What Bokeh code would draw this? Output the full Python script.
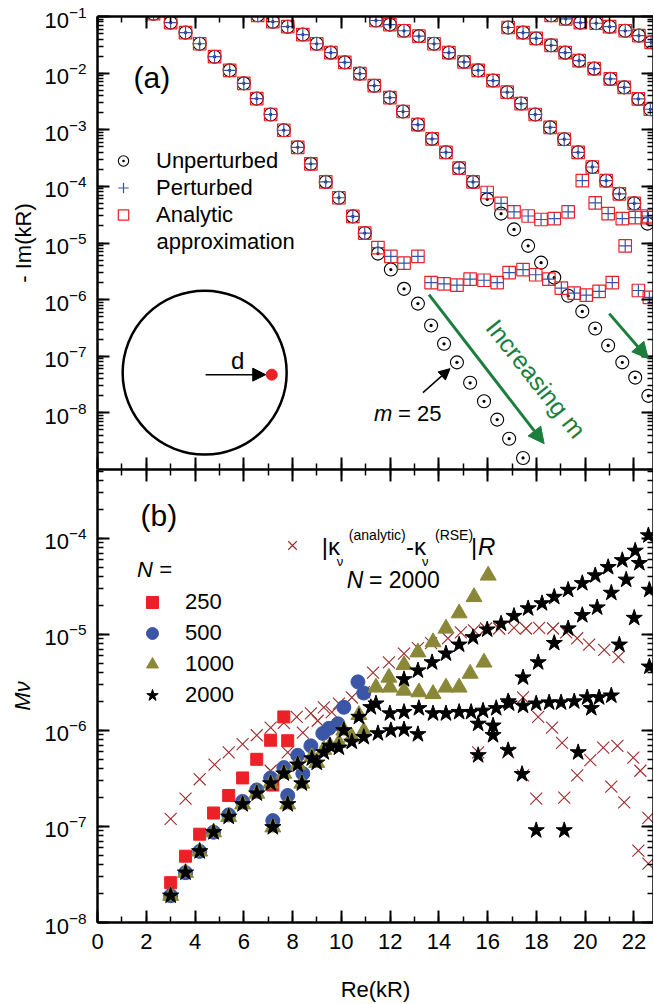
from bokeh.plotting import figure
from bokeh.models import (FixedTicker, LogAxis, LinearAxis, Label, Arrow, NormalHead,
                          Legend, LegendItem, LogTickFormatter, CustomJSTickFormatter)
from bokeh.layouts import column
from bokeh.embed import file_html
from bokeh.resources import INLINE

FONT = "Liberation Sans"

# ---------------- panel (a): -Im(kR) vs Re(kR) ----------------
fam1_x = [2.30, 3.00, 3.61, 4.19, 4.80, 5.42, 6.00, 6.53, 7.10, 7.64, 8.21, 8.75, 9.36, 9.90,
          10.47, 10.96, 11.50, 12.03, 12.57, 13.14, 13.68, 14.21, 14.74, 15.28, 15.85, 16.39,
          16.88, 17.45]
fam1_unpert = [1.12e-1, 7.8e-2, 5.2e-2, 3.3e-2, 1.95e-2, 1.12e-2, 6.6e-3, 3.55e-3, 1.86e-3,
               9.8e-4, 4.9e-4, 2.5e-4, 1.2e-4, 6.3e-5, 2.95e-5, 1.5e-5, 6.5e-6, 3.4e-6, 1.55e-6,
               8.5e-7, 3.5e-7, 1.66e-7, 7.8e-8, 3.4e-8, 1.6e-8, 7.6e-9, 3.5e-9, 1.6e-9]
fam1_pert_x = [2.30, 3.00, 3.61, 4.19, 4.80, 5.42, 6.00, 6.53, 7.10, 7.64, 8.21, 8.75, 9.36,
               9.90, 10.47, 10.96, 11.50, 12.03, 12.57, 13.14, 13.68, 14.21, 14.74, 15.28,
               15.85, 16.39, 16.88, 17.45, 17.97, 18.51, 19.02, 19.55, 20.04, 20.57, 21.11,
               21.64, 22.18, 22.63]
fam1_pert = [1.12e-1, 7.8e-2, 5.2e-2, 3.3e-2, 1.95e-2, 1.12e-2, 6.6e-3, 3.55e-3, 1.86e-3,
             9.8e-4, 4.9e-4, 2.5e-4, 1.2e-4, 6.3e-5, 2.95e-5, 1.5e-5, 8.3e-6, 5.8e-6, 4.4e-6,
             5.8e-6, 2.0e-6, 1.9e-6, 1.8e-6, 2.3e-6, 2.2e-6, 2.0e-6, 3.0e-6, 3.4e-6, 2.75e-6,
             2.3e-6, 1.6e-6, 1.3e-6, 1.2e-6, 1.4e-6, 2.0e-6, 8.9e-6, 1.45e-6, 1.1e-6]

fam2_x = [6.57, 7.19, 7.80, 8.42, 8.99, 9.57, 10.14, 10.76, 11.35, 11.99, 12.53, 13.14, 13.72,
          14.29, 14.83, 15.40, 15.98, 16.55, 17.08, 17.66, 18.19, 18.73, 19.30, 19.88, 20.41,
          20.94, 21.52, 22.05, 22.59]
fam2_unpert = [1.05e-1, 8.1e-2, 6.6e-2, 4.8e-2, 3.3e-2, 2.3e-2, 1.55e-2, 9.8e-3, 6.0e-3,
               3.7e-3, 2.1e-3, 1.23e-3, 6.9e-4, 4.0e-4, 2.1e-4, 1.2e-4, 5.9e-5, 3.3e-5,
               1.74e-5, 8.9e-6, 4.5e-6, 2.45e-6, 1.17e-6, 6.2e-7, 3.1e-7, 1.55e-7, 7.8e-8,
               4.2e-8, 2.0e-8]
fam2_pert = [1.05e-1, 8.1e-2, 6.6e-2, 4.8e-2, 3.3e-2, 2.3e-2, 1.55e-2, 9.8e-3, 6.0e-3,
             3.7e-3, 2.1e-3, 1.23e-3, 6.9e-4, 4.0e-4, 2.1e-4, 1.2e-4, 7.8e-5, 5.0e-5, 3.55e-5,
             3.0e-5, 2.6e-5, 2.7e-5, 3.55e-5, 1.26e-4, 5.1e-5, 3.3e-5, 2.7e-5, 2.8e-5, 2.8e-5]

fam3_x = [11.42, 11.99, 12.57, 13.18, 13.80, 14.41, 15.03, 15.61, 16.22, 16.80, 17.37, 17.95,
          18.56, 19.14, 19.71, 20.29, 20.86, 21.40, 22.01, 22.55]
fam3_unpert = [8.5e-2, 7.2e-2, 5.6e-2, 4.5e-2, 3.3e-2, 2.3e-2, 1.58e-2, 1.12e-2, 7.4e-3,
               4.6e-3, 2.9e-3, 1.86e-3, 1.1e-3, 6.8e-4, 4.0e-4, 2.2e-4, 1.26e-4, 7.4e-5,
               5.0e-5, 2.2e-5]
fam3_pert = [8.5e-2, 7.2e-2, 5.6e-2, 4.5e-2, 3.3e-2, 2.3e-2, 1.58e-2, 1.12e-2, 7.4e-3,
             4.6e-3, 2.9e-3, 1.86e-3, 1.1e-3, 6.8e-4, 4.0e-4, 2.2e-4, 1.26e-4, 7.4e-5,
             5.0e-5, 3.0e-5]

fam4_x = [16.84, 17.45, 17.99, 18.60, 19.18, 19.75, 20.37, 21.03, 21.60, 22.18, 22.67]
fam4_val = [6.4e-2, 5.2e-2, 4.1e-2, 3.1e-2, 2.3e-2, 1.66e-2, 1.2e-2, 7.9e-3, 5.6e-3, 3.5e-3,
            2.3e-3]
fam5_x = [18.60, 19.20, 19.80, 20.45, 21.00, 21.64, 22.20, 22.70]
fam5_val = [1.05e-1, 9.1e-2, 7.8e-2, 7.6e-2, 6.6e-2, 5.6e-2, 4.6e-2, 3.5e-2]

# ---------------- panel (b): M_nu vs Re(kR) ----------------
n250_x = [3.00, 3.61, 4.19, 4.76, 5.38, 5.95, 6.53, 7.10, 7.64, 7.19, 7.80]
n250_y = [2.6e-8, 4.9e-8, 8.3e-8, 1.38e-7, 2.1e-7, 3.2e-7, 5.0e-7, 7.9e-7, 1.38e-6, 2.7e-7,
          7.8e-7]

n500_x = [3.00, 3.61, 4.19, 4.76, 5.38, 5.95, 6.53, 7.10, 7.64, 8.21, 8.75, 9.24, 9.49, 9.86,
          10.10, 10.68, 10.92, 7.19, 7.80, 8.42]
n500_y = [1.9e-8, 3.3e-8, 5.5e-8, 8.7e-8, 1.32e-7, 1.82e-7, 2.4e-7, 3.2e-7, 4.1e-7, 5.5e-7,
          6.9e-7, 9.3e-7, 1.05e-6, 1.17e-6, 1.74e-6, 3.2e-6, 2.45e-6, 1.15e-7, 2.1e-7, 3.55e-7]

n1000_x = [3.00, 3.61, 4.19, 4.76, 5.38, 5.95, 6.53, 7.10, 7.64, 8.21, 8.79, 9.28, 9.90, 10.43,
           10.92, 7.19, 7.80, 8.38, 8.99, 9.53, 10.10, 10.72, 11.42, 11.99, 12.57, 13.18,
           13.76, 14.29, 14.83, 15.28, 15.85, 11.95, 12.57, 13.14, 13.76, 14.29, 14.83, 15.44,
           16.02]
n1000_y = [1.9e-8, 3.3e-8, 5.5e-8, 8.7e-8, 1.26e-7, 1.7e-7, 2.2e-7, 2.8e-7, 3.55e-7, 4.4e-7,
           5.3e-7, 6.3e-7, 7.4e-7, 8.5e-7, 9.8e-7, 9.8e-8, 1.7e-7, 2.8e-7, 4.6e-7, 6.9e-7,
           1.0e-6, 1.45e-6, 2.8e-6, 2.8e-6, 2.6e-6, 2.5e-6, 2.4e-6, 2.8e-6, 2.8e-6, 3.9e-6,
           5.1e-6, 3.55e-6, 4.8e-6, 6.5e-6, 8.3e-6, 1.15e-5, 1.66e-5, 2.45e-5, 4.1e-5]

n2000_x = [3.00, 3.61, 4.19, 4.76, 5.38, 5.95, 6.53, 7.10, 7.64, 8.21, 8.79, 9.28, 9.90, 10.43,
           10.92, 11.50, 12.03, 12.57, 13.14,
           7.19, 7.80, 8.38, 8.99, 9.53, 10.10, 10.72, 11.21,
           11.42, 11.99, 12.57, 13.18, 13.76, 14.29, 14.83, 15.32, 15.81, 16.35, 16.88, 17.45,
           17.99, 18.52, 19.01, 19.55, 20.08, 20.57, 21.07, 20.25,
           12.57, 13.14, 13.72, 14.29, 14.83, 15.40, 15.98, 16.55, 17.08, 17.66, 18.23, 18.73,
           19.30, 19.88, 20.41, 20.94, 21.52, 22.05, 22.59,
           17.45, 18.07, 18.73, 19.30, 19.88, 20.49, 21.07, 21.68, 22.22,
           22.63, 22.01, 21.40, 22.63,
           15.61, 16.84, 17.41, 17.99, 19.14, 19.71, 16.22, 16.22, 16.84, 15.61]
n2000_y = [1.9e-8, 3.3e-8, 5.5e-8, 8.7e-8, 1.26e-7, 1.7e-7, 2.2e-7, 2.8e-7, 3.55e-7, 4.4e-7,
           5.1e-7, 5.9e-7, 6.6e-7, 7.6e-7, 8.5e-7, 9.3e-7, 1.0e-6, 1.02e-6, 9.1e-7,
           9.8e-8, 1.7e-7, 2.8e-7, 4.6e-7, 6.9e-7, 1.0e-6, 1.38e-6, 1.74e-6,
           1.9e-6, 1.5e-6, 1.55e-6, 1.7e-6, 1.5e-6, 1.5e-6, 1.55e-6, 1.55e-6, 1.6e-6, 1.7e-6,
           1.9e-6, 1.8e-6, 1.9e-6, 1.95e-6, 1.95e-6, 2.0e-6, 2.2e-6, 2.2e-6, 2.3e-6, 1.7e-6,
           3.4e-6, 4.2e-6, 5.1e-6, 6.3e-6, 7.8e-6, 9.3e-6, 1.12e-5, 1.29e-5, 1.55e-5, 1.86e-5,
           2.1e-5, 2.45e-5, 2.9e-5, 3.4e-5, 4.1e-5, 5.0e-5, 5.9e-5, 7.4e-5, 1.07e-4,
           3.55e-6, 5.1e-6, 8.1e-6, 1.15e-5, 1.58e-5, 1.9e-5, 2.7e-5, 3.7e-5, 5.5e-5,
           2.9e-5, 1.48e-5, 7.8e-6, 4.6e-6,
           5.5e-7, 6.2e-7, 3.5e-7, 9.1e-8, 9.1e-8, 5.9e-7, 8.9e-7, 1.12e-6, 2.0e-6, 1.17e-6]

dk_x = [3.00, 3.61, 4.19, 4.80, 5.38, 5.95, 6.53, 7.10, 7.64, 8.17, 8.75, 9.28, 9.90, 10.43,
        10.92, 7.10, 7.80, 8.42, 9.03, 9.61,
        11.30, 11.95, 12.57, 13.14, 13.68, 14.37, 14.90, 15.44, 15.93, 16.47, 17.08, 17.57,
        18.11, 18.68, 19.22, 19.67, 20.16, 20.78, 21.36,
        17.45, 18.07, 18.64, 19.05, 19.67, 20.21, 20.74, 21.32, 21.97, 22.26, 21.07, 21.60,
        22.59, 22.18, 22.59, 17.99, 19.14, 15.61, 16.84, 17.45]
dk_y = [1.2e-7, 1.95e-7, 3.1e-7, 4.4e-7, 5.9e-7, 7.2e-7, 8.9e-7, 1.07e-6, 1.2e-6, 1.38e-6,
        1.5e-6, 1.74e-6, 1.9e-6, 2.2e-6, 2.5e-6, 3.8e-7, 5.9e-7, 9.5e-7, 1.26e-6, 1.55e-6,
        4.0e-6, 5.1e-6, 6.3e-6, 7.2e-6, 8.1e-6, 9.1e-6, 1.05e-5, 1.1e-5, 1.15e-5, 1.15e-5,
        1.17e-5, 1.15e-5, 1.17e-5, 1.15e-5, 1.05e-5, 9.1e-6, 7.8e-6, 6.9e-6, 5.8e-6,
        2.2e-6, 1.38e-6, 1.07e-6, 7.4e-7, 3.4e-7, 4.9e-7, 6.6e-7, 6.9e-7, 5.2e-7, 3.8e-7,
        2.6e-7, 1.78e-7, 1.23e-7, 5.6e-8, 4.1e-8, 1.95e-7, 2.0e-7, 5.9e-7, 5.9e-7, 3.4e-7]

x_ticks = [0, 2, 4, 6, 8, 10, 12, 14, 16, 18, 20, 22]
x_minor = list(range(0, 23))
top_major = [1e-8, 1e-7, 1e-6, 1e-5, 1e-4, 1e-3, 1e-2, 1e-1]
bot_major = [1e-8, 1e-7, 1e-6, 1e-5, 1e-4]

# ---------- helpers for placing annotations from pixel positions ----------
def TA(px, py):
    return (px - 97) / 24.35, 10 ** (-1 - (py - 16) / 56.6)

def TB(px, py):
    return (px - 97) / 24.35, 10 ** (-8 + (922 - py) / 96.0)


def style_axis(ax, labels=True):
    ax.axis_line_width = 2.5
    ax.axis_line_color = "black"
    ax.major_tick_in = 12
    ax.major_tick_out = 0
    ax.minor_tick_in = 6
    ax.minor_tick_out = 0
    ax.major_tick_line_width = 2
    ax.minor_tick_line_width = 1.5
    ax.major_label_text_font = FONT
    ax.major_label_text_font_size = "22px"
    ax.major_label_text_color = "black"
    ax.axis_label_text_font = FONT
    ax.axis_label_text_font_size = "22px"
    ax.axis_label_text_font_style = "normal"
    ax.axis_label_text_color = "black"
    ax.major_label_standoff = 11
    if not labels:
        ax.formatter = CustomJSTickFormatter(code="return ''")
        ax.major_label_text_font_size = "1px"
        ax.major_label_standoff = 0


def minor_log(lo, hi):
    return [k * 10.0 ** e for e in range(lo, hi) for k in range(1, 10)]


def make_fig(ymin, ymax, major, minor, bottom_labels, fh, top_border):
    p = figure(x_range=(0, 22.8), y_range=(ymin, ymax), y_axis_type="log",
               x_axis_location=None, y_axis_location=None,
               frame_width=556, frame_height=fh, output_backend="svg",
               toolbar_location=None, min_border_left=97, min_border_right=0,
               min_border_top=top_border, min_border_bottom=0,
               background_fill_color="white", border_fill_color="white")
    p.outline_line_color = None
    p.xgrid.visible = False
    p.ygrid.visible = False
    xt = FixedTicker(ticks=x_ticks, minor_ticks=x_minor)
    yt = FixedTicker(ticks=major, minor_ticks=minor)
    left = LogAxis(ticker=yt, formatter=LogTickFormatter())
    style_axis(left, True)
    p.add_layout(left, "left")
    below = LinearAxis(ticker=xt)
    style_axis(below, bottom_labels)
    p.add_layout(below, "below")
    top = LinearAxis(ticker=xt)
    style_axis(top, False)
    p.add_layout(top, "above")
    right = LogAxis(ticker=yt)
    style_axis(right, False)
    p.add_layout(right, "right")
    return p, left, below

# ======================= top panel ===========================
p1, p1_left, p1_below = make_fig(1e-9, 1e-1, top_major, minor_log(-9, -1), False, 453, 16)
p1_left.axis_label = "- Im(kR)"
p1_left.axis_label_standoff = 5

UNP = dict(marker="circle_dot", size=13, line_color="black", line_width=1.1,
           fill_color=None)
PER = dict(marker="cross", size=12, line_color="#3653a5", line_width=1.2)
ANA = dict(marker="square", size=12.5, line_color="#ec2027", line_width=1.2,
           fill_color=None)

r_unp = []
for xs, ys in [(fam1_x, fam1_unpert), (fam2_x, fam2_unpert), (fam3_x, fam3_unpert),
               (fam4_x, fam4_val), (fam5_x, fam5_val)]:
    r_unp.append(p1.scatter(xs, ys, **UNP))
rp = []
ra = []
for xs, ys in [(fam1_pert_x, fam1_pert), (fam2_x, fam2_pert), (fam3_x, fam3_pert),
               (fam4_x, fam4_val), (fam5_x, fam5_val)]:
    ra.append(p1.scatter(xs, ys, **ANA))
    rp.append(p1.scatter(xs, ys, **PER))

leg1 = Legend(items=[LegendItem(label="Unperturbed", renderers=[r_unp[0]]),
                     LegendItem(label="Perturbed", renderers=[rp[0]]),
                     LegendItem(label="Analytic", renderers=[ra[0]])],
              location=(13, 241), orientation="vertical", border_line_color=None,
              background_fill_alpha=0, padding=0, margin=0, spacing=0,
              glyph_width=26, glyph_height=27, label_height=27, label_standoff=20,
              label_text_font=FONT, label_text_font_size="22px", label_text_color="black")
p1.add_layout(leg1, "center")

def add_label(p, xy, text, size="22px", style="normal", color="black", align="left",
              angle=0.0):
    lab = Label(x=xy[0], y=xy[1], text=text, text_font=FONT, text_font_size=size,
                text_font_style=style, text_color=color, text_align=align,
                text_baseline="middle", angle=angle)
    p.add_layout(lab)

add_label(p1, TA(156, 241), "approximation")
add_label(p1, TA(133, 77), "(a)", size="30px")

# inset: circle with displaced dipole
cx, cy = TA(204, 372)
p1.scatter([cx], [cy], marker="circle", size=164, fill_color=None, line_color="black",
           line_width=2.5)
x0, y0 = TA(205, 374)
x1, y1 = TA(265, 374)
p1.add_layout(Arrow(x_start=x0, y_start=y0, x_end=x1, y_end=y1, line_width=1.5,
                    line_color="black",
                    end=NormalHead(size=13, fill_color="black", line_color="black")))
dx, dy = TA(271, 374)
p1.scatter([dx], [dy], marker="circle", size=11, fill_color="#ec2027", line_color="#ec2027")
add_label(p1, TA(237, 360), "d", size="24px", align="center")

GREEN = "#1c7e3c"
xs_, ys_ = TA(428, 294)
xe_, ye_ = TA(543, 443)
p1.add_layout(Arrow(x_start=xs_, y_start=ys_, x_end=xe_, y_end=ye_, line_width=3,
                    line_color=GREEN,
                    end=NormalHead(size=16, fill_color=GREEN, line_color=GREEN)))
xs_, ys_ = TA(608, 313)
xe_, ye_ = TA(647, 358)
p1.add_layout(Arrow(x_start=xs_, y_start=ys_, x_end=xe_, y_end=ye_, line_width=3,
                    line_color=GREEN,
                    end=NormalHead(size=16, fill_color=GREEN, line_color=GREEN)))
add_label(p1, TA(535, 378), "Increasing m", size="25px", color=GREEN, align="center",
          angle=-0.90)
xs_, ys_ = TA(422, 392)
xe_, ye_ = TA(449, 368)
p1.add_layout(Arrow(x_start=xs_, y_start=ys_, x_end=xe_, y_end=ye_, line_width=1.5,
                    line_color="black",
                    end=NormalHead(size=11, fill_color="black", line_color="black")))
add_label(p1, TA(373, 413), "m", style="italic")
add_label(p1, TA(397, 413), "= 25")

# ======================= bottom panel ===========================
p2, p2_left, p2_below = make_fig(1e-8, 5.2e-4, bot_major, minor_log(-8, -3), True, 453, 0)
p2_below.axis_label = "Re(kR)"
p2_below.axis_label_standoff = 25
p2_left.axis_label = "M\u03bd"
p2_left.axis_label_text_font_style = "italic"
p2_left.axis_label_standoff = 6

RED = "#ec2027"
BLUE = "#3b56a6"
OLIVE = "#8a8838"
DKRED = "#9e2a2b"

rx = p2.scatter(dk_x, dk_y, marker="x", size=17, line_color=DKRED, line_width=1.1)
r250 = p2.scatter(n250_x, n250_y, marker="square", size=12, fill_color=RED, line_color=RED)
r500 = p2.scatter(n500_x, n500_y, marker="circle", size=14, fill_color=BLUE, line_color=BLUE)
r1000 = p2.scatter(n1000_x, n1000_y, marker="triangle", size=16, fill_color=OLIVE,
                   line_color=OLIVE)
r2000 = p2.scatter(n2000_x, n2000_y, marker="star", size=17, fill_color="black",
                   line_color="black")

leg2 = Legend(items=[LegendItem(label="250", renderers=[r250]),
                     LegendItem(label="500", renderers=[r500]),
                     LegendItem(label="1000", renderers=[r1000]),
                     LegendItem(label="2000", renderers=[r2000])],
              location=(40, 212), orientation="vertical", border_line_color=None,
              background_fill_alpha=0, padding=0, margin=0, spacing=1,
              glyph_width=30, glyph_height=30, label_height=30, label_standoff=18,
              label_text_font=FONT, label_text_font_size="22px", label_text_color="black",
              title="N =", title_text_font=FONT, title_text_font_size="22px",
              title_text_font_style="italic", title_text_color="black", title_standoff=4)
p2.add_layout(leg2, "center")

leg3 = Legend(items=[LegendItem(label=" ", renderers=[rx])],
              location=(180, 362), border_line_color=None, background_fill_alpha=0,
              padding=0, margin=0, glyph_width=30, glyph_height=30, label_height=30,
              label_standoff=0, label_text_font=FONT, label_text_font_size="12px")
p2.add_layout(leg3, "center")

add_label(p2, TB(140, 515), "(b)", size="30px")
add_label(p2, TB(321, 546), "|\u03ba", size="24px")
add_label(p2, TB(336, 561), "\u03bd", size="13px")
add_label(p2, TB(348, 535), "(analytic)", size="14px")
add_label(p2, TB(405, 546), "-\u03ba", size="24px")
add_label(p2, TB(421, 561), "\u03bd", size="13px")
add_label(p2, TB(434, 535), "(RSE)", size="14px")
add_label(p2, TB(470, 546), "|", size="24px")
add_label(p2, TB(477, 546), "R", size="24px", style="italic")
add_label(p2, TB(346, 580), "N", size="23px", style="italic")
add_label(p2, TB(368, 580), "= 2000", size="23px")

layout = column(p1, p2, spacing=0)
open("out.html", "w").write(file_html(layout, INLINE))
